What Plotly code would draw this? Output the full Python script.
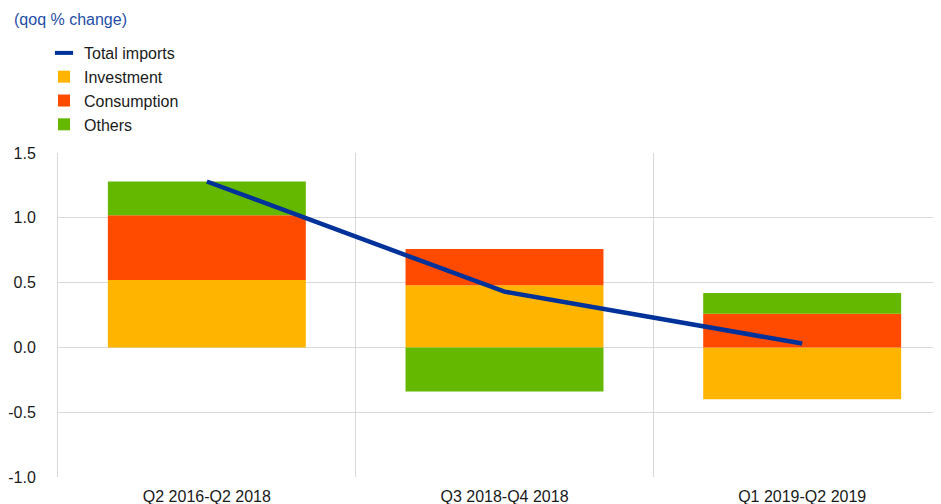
import plotly.graph_objects as go

categories = ["Q2 2016-Q2 2018", "Q3 2018-Q4 2018", "Q1 2019-Q2 2019"]
investment = [0.52, 0.48, -0.40]
consumption = [0.50, 0.28, 0.26]
others = [0.26, -0.34, 0.16]
total_imports = [1.28, 0.43, 0.03]
y_ticks = [-1.0, -0.5, 0.0, 0.5, 1.0, 1.5]
y_tick_labels = ["-1.0", "-0.5", "0.0", "0.5", "1.0", "1.5"]

x_idx = list(range(len(categories)))

BLUE = "#003299"
YELLOW = "#FFB400"
RED = "#FF4B00"
GREEN = "#65B800"
GRID = "#d9d9d9"
FONT = "Liberation Sans, Arial, sans-serif"
FS = 16

# page has an 8px body margin; figure is sized to fill the rest of the window
W, H = 933, 496
ML, MR, MT, MB = 50, 1, 145, 27
PW, PH = W - ML - MR, H - MT - MB
PB = H - MB  # plot bottom in figure px

fig = go.Figure()

# legend-only entry for the line (short thick dash like the reference)
fig.add_trace(go.Scatter(
    x=[None], y=[None], mode="markers", name="Total imports",
    marker=dict(symbol="line-ew-open", size=13, color=BLUE,
                line=dict(color=BLUE, width=4)),
    hoverinfo="skip",
))
for name, vals, col in [("Investment", investment, YELLOW),
                        ("Consumption", consumption, RED),
                        ("Others", others, GREEN)]:
    fig.add_trace(go.Bar(
        x=x_idx, y=vals, name=name, width=0.665,
        marker=dict(color=col, line=dict(width=0)),
    ))

fig.add_trace(go.Scatter(
    x=x_idx, y=total_imports, mode="lines", name="Total imports",
    line=dict(color=BLUE, width=4.5), showlegend=False,
))

fig.update_layout(
    width=W, height=H,
    barmode="relative",
    margin=dict(l=ML, r=MR, t=MT, b=MB, autoexpand=False),
    paper_bgcolor="white", plot_bgcolor="white",
    font=dict(family=FONT, size=FS, color="#1a1a1a"),
    showlegend=True,
    legend=dict(
        x=-14 / PW, y=(PB - 28) / PH, xanchor="left", yanchor="top",
        traceorder="normal", bgcolor="rgba(0,0,0,0)",
        font=dict(family=FONT, size=FS, color="#1a1a1a"),
        tracegroupgap=0,
    ),
    annotations=[dict(
        text="(qoq % change)", xref="paper", yref="paper",
        x=-46 / PW, y=(PB - 12) / PH, xanchor="left", yanchor="middle",
        showarrow=False, font=dict(family=FONT, size=FS, color="#1f4ea8"),
    )],
)

fig.update_xaxes(
    range=[-0.5, 2.463],
    tickmode="array", tickvals=x_idx, ticktext=categories,
    showgrid=False, zeroline=False, showline=False,
    ticks="", ticklabelstandoff=8,
    minor=dict(tickmode="array", tickvals=[-0.5, 0.5, 1.5],
               showgrid=True, gridcolor=GRID, gridwidth=1, ticks=""),
)
fig.update_yaxes(
    range=[-1.0, 1.5], tickmode="array", tickvals=y_ticks, ticktext=y_tick_labels,
    showgrid=True, gridcolor=GRID, gridwidth=1,
    zeroline=True, zerolinecolor=GRID, zerolinewidth=1,
    showline=True, linecolor=GRID, linewidth=1,
    ticks="", ticklabelstandoff=18,
)

fig.write_html("out.html")
